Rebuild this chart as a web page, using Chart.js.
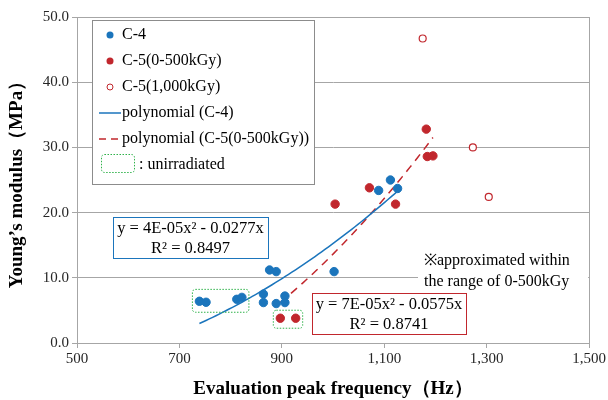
<!DOCTYPE html>
<html>
<head>
<meta charset="utf-8">
<script src="https://cdn.jsdelivr.net/npm/chart.js@4.4.0/dist/chart.umd.min.js"></script>
<style>
html, body { margin: 0; padding: 0; background: #fff; }
</style>
</head>
<body>
<canvas id="myChart" width="608" height="400"></canvas>
<script>
// C-4
const c4Freq    = [739, 752, 812, 822, 864, 864, 889, 906, 906, 876, 889, 1002, 1089, 1112, 1126];
const c4Modulus = [6.4, 6.25, 6.7, 7.0, 7.5, 6.2, 6.05, 7.2, 6.2, 11.2, 10.95, 10.95, 23.4, 25.0, 23.7];
// C-5 (0-500kGy)
const c5Freq    = [897, 927, 1004, 1071, 1122, 1182, 1184, 1195];
const c5Modulus = [3.8, 3.8, 21.3, 23.8, 21.3, 32.8, 28.6, 28.7];
// C-5 (1,000kGy)
const c5hFreq    = [1175, 1273, 1304];
const c5hModulus = [46.7, 30.0, 22.4];
// unirradiated samples (indices)
const c4Unirr = [0, 1, 2, 3];
const c5Unirr = [0, 1];

const xTicks = [500, 700, 900, 1100, 1300, 1500];
const yTicks = [0, 10, 20, 30, 40, 50];

const BLUE = '#1b75bc';
const RED = '#c1272d';
const GREEN = '#2fb24a';
const GRID = '#a6a6a6';
const FONT = '"Liberation Serif", "Times New Roman", serif';

function toPoints(xs, ys) {
    return xs.map((x, i) => ({x: x, y: ys[i]}));
}

// least squares y = a*x^2 + b*x (no intercept, like the Excel trendline)
function fitQuad(xs, ys) {
    let s4 = 0, s3 = 0, s2 = 0, s2y = 0, s1y = 0;
    xs.forEach((x, i) => {
        s4 += x ** 4; s3 += x ** 3; s2 += x ** 2;
        s2y += x * x * ys[i]; s1y += x * ys[i];
    });
    const det = s4 * s2 - s3 * s3;
    const a = (s2y * s2 - s3 * s1y) / det;
    const b = (s4 * s1y - s3 * s2y) / det;
    const lo = Math.min(...xs), hi = Math.max(...xs);
    const pts = [];
    for (let i = 0; i <= 60; i++) {
        const x = lo + (hi - lo) * i / 60;
        pts.push({x: x, y: a * x * x + b * x});
    }
    return pts;
}

function textBox(ctx, lines, x1, y1, x2, y2, border) {
    ctx.save();
    ctx.fillStyle = '#fff';
    ctx.fillRect(x1, y1, x2 - x1, y2 - y1);
    ctx.strokeStyle = border;
    ctx.lineWidth = 1;
    ctx.strokeRect(x1 + 0.5, y1 + 0.5, x2 - x1, y2 - y1);
    ctx.fillStyle = '#000';
    ctx.font = '16.5px ' + FONT;
    ctx.textAlign = 'center';
    ctx.textBaseline = 'middle';
    const cx = (x1 + x2) / 2, h = (y2 - y1) / lines.length;
    lines.forEach((t, i) => ctx.fillText(t, cx, y1 + h * (i + 0.5) + 1));
    ctx.restore();
}

function greenBox(ctx, chart, xs, ys, idx) {
    const sx = chart.scales.x, sy = chart.scales.y;
    const px = idx.map(i => sx.getPixelForValue(xs[i]));
    const py = idx.map(i => sy.getPixelForValue(ys[i]));
    const x1 = Math.min(...px) - 7, x2 = Math.max(...px) + 7;
    const y1 = Math.min(...py) - 8, y2 = Math.max(...py) + 10;
    ctx.save();
    ctx.strokeStyle = GREEN;
    ctx.lineWidth = 1;
    ctx.setLineDash([1.5, 1.5]);
    ctx.beginPath();
    ctx.roundRect(x1, y1, x2 - x1, y2 - y1, 3);
    ctx.stroke();
    ctx.restore();
}

const extras = {
    id: 'extras',
    beforeDatasetsDraw(chart) {
        const ctx = chart.ctx, a = chart.chartArea;
        // frame
        ctx.save();
        ctx.strokeStyle = GRID;
        ctx.lineWidth = 1;
        ctx.strokeRect(Math.round(a.left) + 0.5, Math.round(a.top) + 0.5,
            Math.round(a.right - a.left), Math.round(a.bottom - a.top));
        // note with white background
        ctx.fillStyle = '#fff';
        ctx.fillRect(418, 249, a.right - 419, 44);
        ctx.fillStyle = '#000';
        ctx.font = '16px ' + FONT;
        ctx.textBaseline = 'middle';
        ctx.fillText('\u203Bapproximated within', 424, 261);
        ctx.fillText('the range of 0-500kGy', 424, 282);
        ctx.restore();
    },
    afterDatasetsDraw(chart) {
        const ctx = chart.ctx;
        greenBox(ctx, chart, c4Freq, c4Modulus, c4Unirr);
        greenBox(ctx, chart, c5Freq, c5Modulus, c5Unirr);
        textBox(ctx, ['y = 4E-05x\u00B2 - 0.0277x', 'R\u00B2 = 0.8497'], 113, 217, 268, 258, BLUE);
        textBox(ctx, ['y = 7E-05x\u00B2 - 0.0575x', 'R\u00B2 = 0.8741'], 312, 293, 466, 334, RED);

        // legend
        ctx.save();
        ctx.fillStyle = '#fff';
        ctx.fillRect(92, 20, 222, 164);
        ctx.strokeStyle = '#8c8c8c';
        ctx.lineWidth = 1;
        ctx.strokeRect(92.5, 20.5, 222, 164);
        ctx.font = '16px ' + FONT;
        ctx.textBaseline = 'middle';
        ctx.fillStyle = '#000';
        const rows = ['C-4', 'C-5(0-500kGy)', 'C-5(1,000kGy)', 'polynomial (C-4)', 'polynomial (C-5(0-500kGy))'];
        rows.forEach((t, i) => ctx.fillText(t, 122, 35 + i * 26));
        ctx.fillText(': unirradiated', 139, 165);
        ctx.beginPath(); ctx.arc(110, 35, 3.5, 0, Math.PI * 2); ctx.fillStyle = BLUE; ctx.fill();
        ctx.beginPath(); ctx.arc(110, 61, 3.5, 0, Math.PI * 2); ctx.fillStyle = RED; ctx.fill();
        ctx.beginPath(); ctx.arc(110, 87, 3, 0, Math.PI * 2); ctx.strokeStyle = RED; ctx.stroke();
        ctx.lineWidth = 1.5;
        ctx.strokeStyle = BLUE;
        ctx.beginPath(); ctx.moveTo(99, 113); ctx.lineTo(121, 113); ctx.stroke();
        ctx.strokeStyle = RED;
        ctx.setLineDash([7, 5]);
        ctx.beginPath(); ctx.moveTo(99, 139); ctx.lineTo(121, 139); ctx.stroke();
        ctx.setLineDash([1.5, 1.5]);
        ctx.lineWidth = 1;
        ctx.strokeStyle = GREEN;
        ctx.beginPath(); ctx.roundRect(101.5, 154.5, 33, 18, 3); ctx.stroke();
        ctx.restore();
    }
};

const myChartRef = document.getElementById('myChart').getContext('2d');

new Chart(myChartRef, {
    type: 'scatter',
    data: {
        datasets: [{
            label: 'C-4',
            data: toPoints(c4Freq, c4Modulus),
            backgroundColor: BLUE,
            borderColor: BLUE,
            pointRadius: 4.2
        }, {
            label: 'C-5(0-500kGy)',
            data: toPoints(c5Freq, c5Modulus),
            backgroundColor: RED,
            borderColor: RED,
            pointRadius: 4.2
        }, {
            label: 'C-5(1,000kGy)',
            data: toPoints(c5hFreq, c5hModulus),
            backgroundColor: '#fff',
            borderColor: RED,
            borderWidth: 1.2,
            pointRadius: 3.5
        }, {
            label: 'polynomial (C-4)',
            data: fitQuad(c4Freq, c4Modulus),
            showLine: true,
            pointRadius: 0,
            borderColor: BLUE,
            borderWidth: 1.5
        }, {
            label: 'polynomial (C-5(0-500kGy))',
            data: fitQuad(c5Freq, c5Modulus),
            showLine: true,
            pointRadius: 0,
            borderColor: RED,
            borderWidth: 1.5,
            borderDash: [8, 6]
        }]
    },
    options: {
        responsive: false,
        animation: false,
        layout: {padding: {top: 17, right: 17, left: 0, bottom: 0}},
        plugins: {legend: {display: false}, tooltip: {enabled: false}},
        scales: {
            x: {
                type: 'linear',
                min: 500,
                max: 1500,
                afterBuildTicks: s => { s.ticks = xTicks.map(v => ({value: v})); },
                afterFit: s => { s.height = 57; },
                ticks: {
                    color: '#262626',
                    font: {family: FONT, size: 15},
                    padding: 2,
                    maxRotation: 0,
                    callback: v => v.toLocaleString('en-US')
                },
                grid: {drawOnChartArea: false, drawTicks: true, tickLength: 5, color: GRID},
                border: {color: GRID},
                title: {
                    display: true,
                    text: 'Evaluation peak frequency\uFF08Hz\uFF09',
                    color: '#000',
                    font: {family: FONT, size: 19, weight: 'bold'},
                    padding: {top: 2, bottom: 0}
                }
            },
            y: {
                min: 0,
                max: 50,
                afterBuildTicks: s => { s.ticks = yTicks.map(v => ({value: v})); },
                afterFit: s => { s.width = 77; },
                ticks: {
                    color: '#262626',
                    font: {family: FONT, size: 15},
                    padding: 3,
                    callback: v => v.toFixed(1)
                },
                grid: {color: GRID, tickLength: 5},
                border: {color: GRID},
                title: {
                    display: true,
                    text: 'Young\u2019s modulus\uFF08MPa\uFF09',
                    color: '#000',
                    font: {family: FONT, size: 19, weight: 'bold'},
                    padding: {top: 6, bottom: 0}
                }
            }
        }
    },
    plugins: [extras]
});
</script>
</body>
</html>
